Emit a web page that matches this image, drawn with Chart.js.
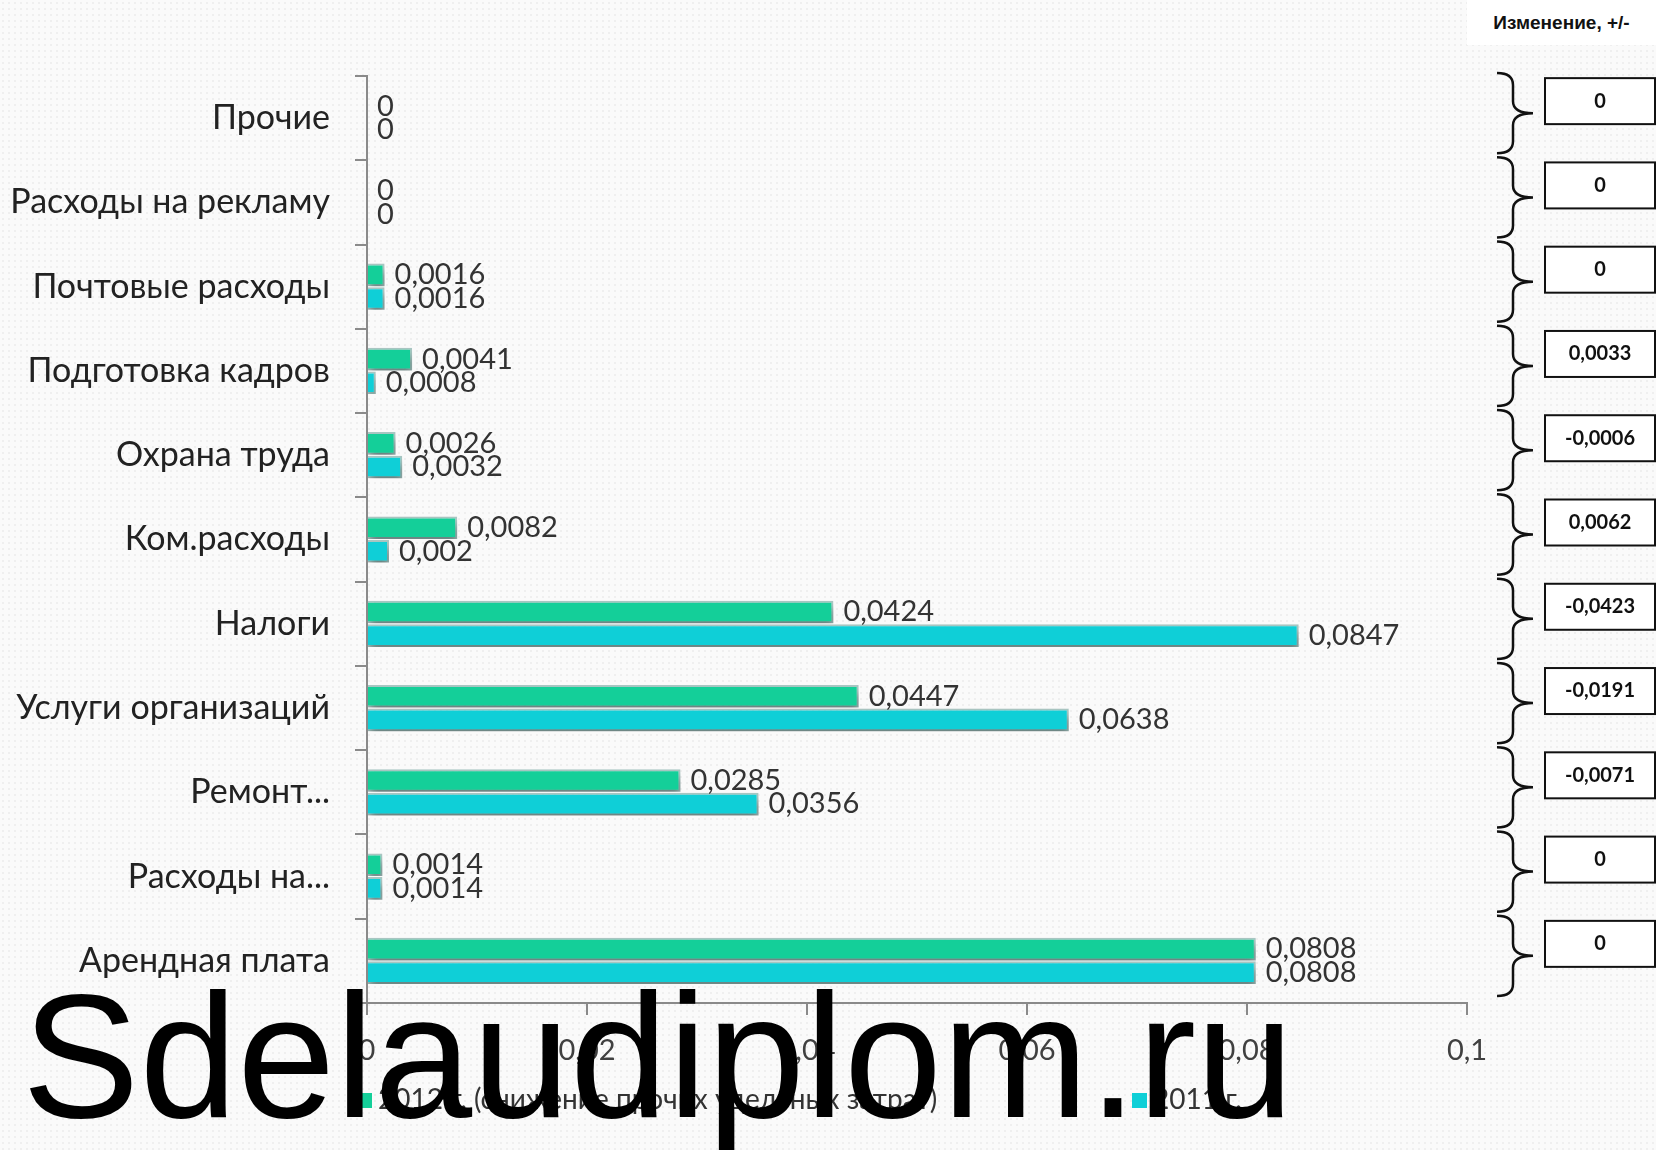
<!DOCTYPE html>
<html lang="ru">
  <head>
    <meta charset="UTF-8" />
    <title>Прочие удельные затраты</title>
    <script src="https://cdn.jsdelivr.net/npm/chart.js"></script>
    <style>
      body { margin: 0; background: #f9f9f9; }
      #wrap { position: relative; width: 1656px; height: 1150px; overflow: hidden;
        background-color: #fafafa;
        background-image: radial-gradient(#efefef 1px, transparent 1px);
        background-size: 6px 6px; }
      #header { position: absolute; left: 1467px; top: 0; width: 189px; height: 45px; background: #fff;
        font: bold 19px "Liberation Sans", Arial, sans-serif; color: #111; text-align: center; line-height: 45px; }
      #legend { position: absolute; top: 1080px; left: 0; width: 1656px; height: 40px;
        font: 28px Lato, sans-serif; color: #333; }
      .item { position: absolute; top: 0; line-height: 36px; white-space: nowrap; }
      .swatch { display: inline-block; width: 15px; height: 15px; margin-right: 6px; vertical-align: 1px; }
      #mark { position: absolute; left: 22px; top: 968px; font: 176px/1 "Liberation Sans", Arial, sans-serif;
        color: #000; white-space: nowrap; }
    </style>
  </head>
  <body>
    <div id="wrap">
      <canvas id="myChart" width="1656" height="1150"></canvas>
      <div id="header">Изменение, +/-</div>
      <div id="legend"></div>
      <div id="mark">Sdelaudiplom.ru</div>
    </div>
    <script>
      const categories = [
        "Прочие",
        "Расходы на рекламу",
        "Почтовые расходы",
        "Подготовка кадров",
        "Охрана труда",
        "Ком.расходы",
        "Налоги",
        "Услуги организаций",
        "Ремонт...",
        "Расходы на...",
        "Арендная плата",
      ];
      const values2012 = [0, 0, 0.0016, 0.0041, 0.0026, 0.0082, 0.0424, 0.0447, 0.0285, 0.0014, 0.0808];
      const values2011 = [0, 0, 0.0016, 0.0008, 0.0032, 0.002, 0.0847, 0.0638, 0.0356, 0.0014, 0.0808];
      const changes = [0, 0, 0, 0.0033, -0.0006, 0.0062, -0.0423, -0.0191, -0.0071, 0, 0];
      const xTicks = [0, 0.02, 0.04, 0.06, 0.08, 0.1];
      const seriesNames = ["2012 г. (снижение прочих удельных затрат)", "2011 г."];
      const seriesColors = ["#14cf99", "#0fcfd7"];

      function fmt(v) {
        return String(+v.toFixed(4)).replace(".", ",");
      }

      // bar shadow + value labels
      const labelPlugin = {
        id: "labels",
        beforeDatasetsDraw(chart) {
          const ctx = chart.ctx;
          ctx.save();
          ctx.shadowColor = "rgba(40,60,60,0.5)";
          ctx.shadowBlur = 9;
          ctx.shadowOffsetX = 2;
          ctx.shadowOffsetY = 7;
        },
        afterDatasetsDraw(chart) {
          const ctx = chart.ctx;
          ctx.restore();
          ctx.save();
          ctx.font = "29px Lato, sans-serif";
          ctx.fillStyle = "#333";
          ctx.textBaseline = "middle";
          chart.data.datasets.forEach((ds, di) => {
            chart.getDatasetMeta(di).data.forEach((bar, i) => {
              ctx.fillText(fmt(ds.data[i]), bar.x + 10, bar.y);
            });
          });
          ctx.restore();
        },
      };

      // braces and change boxes on the right
      const changePlugin = {
        id: "changes",
        afterDraw(chart) {
          const ctx = chart.ctx;
          const y = chart.scales.y;
          const band = y.height / categories.length;
          const x0 = chart.chartArea.right + 30;
          const xv = x0 + 16;
          const xt = x0 + 36;
          ctx.save();
          changes.forEach((c, i) => {
            const mid = y.getPixelForValue(i) - 5;
            const top = mid - band / 2 + 2;
            const bottom = mid + band / 2 - 2;
            const r = 12;
            ctx.strokeStyle = "#111";
            ctx.lineWidth = 2.5;
            ctx.beginPath();
            ctx.moveTo(x0, top);
            ctx.quadraticCurveTo(xv, top, xv, top + r);
            ctx.lineTo(xv, mid - r);
            ctx.quadraticCurveTo(xv, mid, xt, mid);
            ctx.quadraticCurveTo(xv, mid, xv, mid + r);
            ctx.lineTo(xv, bottom - r);
            ctx.quadraticCurveTo(xv, bottom, x0, bottom);
            ctx.stroke();

            const by = mid - 12;
            ctx.fillStyle = "#fff";
            ctx.fillRect(x0 + 48, by - 23, 110, 46);
            ctx.lineWidth = 2;
            ctx.strokeRect(x0 + 48, by - 23, 110, 46);
            ctx.fillStyle = "#111";
            ctx.font = "bold 20px Lato, sans-serif";
            ctx.textAlign = "center";
            ctx.textBaseline = "middle";
            ctx.fillText(fmt(c), x0 + 103, by);
          });
          ctx.restore();
        },
      };

      const chart = new Chart("myChart", {
        type: "bar",
        data: {
          labels: categories,
          datasets: [values2012, values2011].map((vals, i) => ({
            label: seriesNames[i],
            data: vals,
            backgroundColor: seriesColors[i],
            borderColor: "rgba(170,200,196,1)",
            borderWidth: (c) => (c.raw ? 2 : 0),
            categoryPercentage: 0.56,
            barPercentage: 0.96,
          })),
        },
        options: {
          indexAxis: "y",
          responsive: false,
          animation: false,
          layout: { padding: { left: 0, right: 189, top: 76, bottom: 67 } },
          plugins: { legend: { display: false }, tooltip: { enabled: false } },
          scales: {
            x: {
              min: 0,
              max: 0.1,
              afterBuildTicks: (s) => { s.ticks = xTicks.map((v) => ({ value: v })); },
              afterFit: (s) => { s.height = 80; },
              grid: { drawOnChartArea: false, tickLength: 12, color: "#8a8a8a", lineWidth: 2 },
              border: { color: "#8a8a8a", width: 2 },
              ticks: { font: { family: "Lato", size: 29 }, color: "#404040", padding: 18, callback: (v) => fmt(v) },
            },
            y: {
              afterFit: (s) => { s.width = 367; },
              grid: { drawOnChartArea: false, tickLength: 12, color: "#8a8a8a", lineWidth: 2, offset: true },
              border: { color: "#8a8a8a", width: 2 },
              ticks: { font: { family: "Lato", size: 34 }, color: "#222", padding: 25 },
            },
          },
        },
        plugins: [labelPlugin, changePlugin],
      });

      // legend spread out like the original
      const legendX = [357, 1132];
      seriesNames.forEach((name, i) => {
        const el = document.createElement("span");
        el.className = "item";
        el.style.left = legendX[i] + "px";
        el.innerHTML = '<span class="swatch" style="background:' + seriesColors[i] + '"></span>' + name;
        document.getElementById("legend").appendChild(el);
      });
    </script>
  </body>
</html>
